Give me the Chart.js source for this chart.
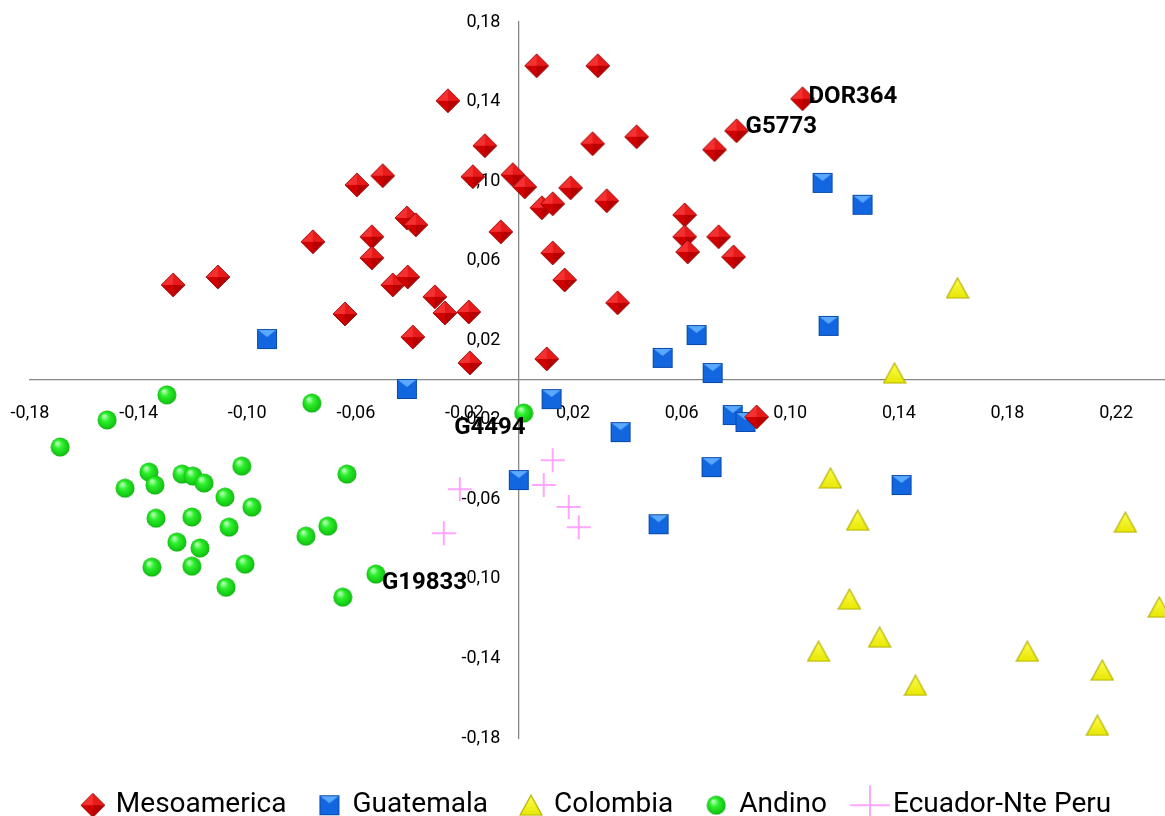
<!DOCTYPE html>
<html>
<head>
<meta charset="utf-8">
<script src="https://cdn.jsdelivr.net/npm/chart.js@4"></script>
<style>
  html, body { margin: 0; padding: 0; background: #fff; overflow: hidden; }
  #wrap { width: 1165px; height: 816px; position: relative; }
  #chart { display: block; }
</style>
</head>
<body>
<div id="wrap"><canvas id="chart"></canvas></div>
<script>
// series names
const seriesNames = ['Mesoamerica', 'Guatemala', 'Colombia', 'Andino', 'Ecuador-Nte Peru'];

// [x, y] values
const mesoamerica = [
  [-0.1273, 0.0478], [-0.1108, 0.0518], [-0.0261, 0.1404], [-0.0125, 0.1178],
  [-0.0501, 0.1027], [-0.0596, 0.0981], [-0.0169, 0.1022], [-0.0022, 0.1032],
  [0.0022, 0.0971], [-0.0412, 0.0815], [-0.0379, 0.0780], [-0.0066, 0.0745],
  [-0.0758, 0.0695], [-0.0541, 0.0720], [-0.0541, 0.0614], [-0.0464, 0.0478],
  [-0.0409, 0.0518], [-0.0309, 0.0418], [-0.0272, 0.0337], [-0.0184, 0.0342],
  [-0.0640, 0.0332], [-0.0390, 0.0216], [-0.0180, 0.0086], [0.0066, 0.1580],
  [0.0291, 0.1580], [0.1045, 0.1414], [0.0802, 0.1253], [0.0272, 0.1188],
  [0.0434, 0.1223], [0.0721, 0.1158], [0.0191, 0.0966], [0.0085, 0.0866],
  [0.0125, 0.0886], [0.0324, 0.0901], [0.0611, 0.0830], [0.0611, 0.0720],
  [0.0622, 0.0644], [0.0736, 0.0720], [0.0791, 0.0619], [0.0125, 0.0639],
  [0.0169, 0.0503], [0.0364, 0.0388], [0.0103, 0.0106], [0.0876, -0.0186]
];
const guatemala = [
  [-0.0927, 0.0206], [-0.0412, -0.0045], [0.0121, -0.0096], [0.0655, 0.0226],
  [0.0530, 0.0111], [0.0714, 0.0035], [0.1119, 0.0991], [0.1266, 0.0881],
  [0.1141, 0.0272], [0.0788, -0.0176], [0.0835, -0.0211], [0.0375, -0.0262],
  [0.0710, -0.0438], [0.0000, -0.0503], [0.0515, -0.0725], [0.1410, -0.0528]
];
const colombia = [
  [0.1616, 0.0463], [0.1384, 0.0035], [0.1148, -0.0493], [0.1248, -0.0705],
  [0.2234, -0.0715], [0.1218, -0.1102], [0.2359, -0.1142], [0.1329, -0.1293],
  [0.1104, -0.1364], [0.1873, -0.1364], [0.2149, -0.1459], [0.1461, -0.1535],
  [0.2131, -0.1736]
];
const andino = [
  [-0.1296, -0.0075], [-0.1516, -0.0201], [-0.1689, -0.0337], [-0.0762, -0.0116],
  [-0.1020, -0.0433], [-0.0633, -0.0473], [-0.1362, -0.0463], [-0.1340, -0.0528],
  [-0.1450, -0.0544], [-0.1240, -0.0473], [-0.1200, -0.0483], [-0.1159, -0.0518],
  [-0.1082, -0.0589], [-0.0983, -0.0639], [-0.1336, -0.0695], [-0.1204, -0.0689],
  [-0.1067, -0.0740], [-0.0703, -0.0735], [-0.0784, -0.0785], [-0.1259, -0.0815],
  [-0.1174, -0.0845], [-0.1351, -0.0941], [-0.1204, -0.0936], [-0.1008, -0.0926],
  [-0.1078, -0.1042], [-0.0526, -0.0976], [-0.0648, -0.1092], [0.0018, -0.0166]
];
const ecuadorPeru = [
  [0.0125, -0.0403], [0.0092, -0.0528], [-0.0217, -0.0549], [0.0184, -0.0639],
  [0.0221, -0.0740], [-0.0276, -0.0770]
];

// named points: [label, series index, point index]
const pointLabels = [
  ['DOR364', 0, 25],
  ['G5773', 0, 26],
  ['G4494', 3, 27],
  ['G19833', 3, 25]
];

const xTickValues = [-0.18, -0.14, -0.10, -0.06, -0.02, 0.02, 0.06, 0.10, 0.14, 0.18, 0.22];
const yTickValues = [-0.18, -0.14, -0.10, -0.06, -0.02, 0.02, 0.06, 0.10, 0.14, 0.18];

const FONT = 'Roboto, "Open Sans", sans-serif';
const fmt = v => v.toFixed(2).replace('.', ',');

// little shaded markers, like the office-style 3d points
function mk(w, h) {
  const c = document.createElement('canvas');
  c.width = w; c.height = h || w;
  return c;
}
function poly(g, pts, fill) {
  g.beginPath();
  g.moveTo(pts[0][0], pts[0][1]);
  for (let i = 1; i < pts.length; i++) g.lineTo(pts[i][0], pts[i][1]);
  g.closePath();
  g.fillStyle = fill;
  g.fill();
}
function diamondMarker() {
  const c = mk(26), g = c.getContext('2d'), m = 13, r = 12;
  poly(g, [[m, m - r], [m, m], [m - r, m]], '#f43030');
  poly(g, [[m, m - r], [m + r, m], [m, m]], '#e81a1a');
  poly(g, [[m - r, m], [m, m], [m, m + r]], '#d00000');
  poly(g, [[m + r, m], [m, m + r], [m, m]], '#b80000');
  g.beginPath();
  g.moveTo(m, m - r); g.lineTo(m + r, m); g.lineTo(m, m + r); g.lineTo(m - r, m); g.closePath();
  g.strokeStyle = 'rgba(140,0,0,0.8)';
  g.lineWidth = 1;
  g.stroke();
  return c;
}
function squareMarker() {
  const c = mk(22), g = c.getContext('2d');
  g.fillStyle = '#1266e0';
  g.fillRect(1, 1, 20, 20);
  poly(g, [[2, 2], [20, 2], [11, 9]], '#5aa8ff');
  g.strokeStyle = '#0a4aa8';
  g.lineWidth = 1;
  g.strokeRect(1.5, 1.5, 19, 19);
  return c;
}
function triangleMarker() {
  const c = mk(24, 22), g = c.getContext('2d');
  const grad = g.createLinearGradient(0, 0, 0, 22);
  grad.addColorStop(0, '#ffff50');
  grad.addColorStop(1, '#e6e600');
  g.beginPath();
  g.moveTo(12, 1); g.lineTo(23, 21); g.lineTo(1, 21); g.closePath();
  g.fillStyle = grad;
  g.fill();
  g.strokeStyle = '#b4b000';
  g.lineWidth = 1.2;
  g.stroke();
  return c;
}
function circleMarker() {
  const c = mk(20), g = c.getContext('2d');
  const grad = g.createRadialGradient(7, 6, 1, 10, 10, 10);
  grad.addColorStop(0, '#b0ffb0');
  grad.addColorStop(0.35, '#2ef02e');
  grad.addColorStop(0.85, '#14c814');
  grad.addColorStop(1, '#0c9c0c');
  g.beginPath();
  g.arc(10, 10, 9.5, 0, Math.PI * 2);
  g.fillStyle = grad;
  g.fill();
  return c;
}

const toXY = arr => arr.map(p => ({ x: p[0], y: p[1] }));

const datasets = [
  { label: seriesNames[0], data: toXY(mesoamerica), pointStyle: diamondMarker() },
  { label: seriesNames[1], data: toXY(guatemala), pointStyle: squareMarker() },
  { label: seriesNames[2], data: toXY(colombia), pointStyle: triangleMarker() },
  { label: seriesNames[3], data: toXY(andino), pointStyle: circleMarker() },
  { label: seriesNames[4], data: toXY(ecuadorPeru), pointStyle: 'cross',
    pointRadius: 12, borderColor: '#ffa6ff', backgroundColor: '#ffa6ff', pointBorderWidth: 2 }
];
datasets.forEach(d => {
  d.showLine = false;
  if (d.pointRadius === undefined) d.pointRadius = 10;
});

// bold names next to some points
const labelPlugin = {
  id: 'pointNames',
  afterDatasetsDraw(chart, args, opts) {
    const ctx = chart.ctx;
    ctx.save();
    ctx.font = 'bold 24px ' + FONT;
    ctx.fillStyle = '#000';
    ctx.textBaseline = 'middle';
    pointLabels.forEach(([name, ds, idx]) => {
      const el = chart.getDatasetMeta(ds).data[idx];
      if (!el) return;
      const o = opts.offsets[name] || { dx: 6, dy: 0, align: 'left' };
      ctx.textAlign = o.align;
      ctx.fillText(name, el.x + o.dx, el.y + o.dy);
    });
    ctx.restore();
  }
};

// fixed legend band height so the plot keeps its size
const legendBand = {
  id: 'legendBand',
  beforeLayout(chart, args, opts) {
    const lg = chart.legend;
    if (!lg || lg._bandWrapped) return;
    const fit = lg.fit;
    lg.fit = function () { fit.call(this); this.height = opts.height; };
    lg._bandWrapped = true;
  }
};

new Chart(document.getElementById('chart'), {
  type: 'scatter',
  data: { datasets },
  plugins: [labelPlugin, legendBand],
  options: {
    responsive: true,
    maintainAspectRatio: false,
    animation: false,
    layout: { autoPadding: false, padding: { left: 30, right: 0, top: 22, bottom: 0 } },
    scales: {
      x: {
        type: 'linear',
        min: -0.18,
        max: 0.238,
        position: { y: 0 },
        grid: { display: false, drawTicks: true, tickLength: 23 },
        border: { color: '#878787', width: 1.3 },
        afterBuildTicks: s => { s.ticks = xTickValues.map(v => ({ value: v })); },
        // plot runs to the right edge, the layout padding handles the left
        afterFit: s => { s.paddingLeft = 0; s.paddingRight = 0; },
        ticks: {
          autoSkip: false, maxRotation: 0, padding: 0,
          color: '#000', font: { family: FONT, size: 18 },
          callback: v => fmt(v)
        }
      },
      y: {
        type: 'linear',
        min: -0.18,
        max: 0.18,
        position: { x: 0 },
        grid: { display: false, drawTicks: false },
        border: { color: '#878787', width: 1.3 },
        afterBuildTicks: s => { s.ticks = yTickValues.map(v => ({ value: v })); },
        ticks: {
          autoSkip: false, padding: 0,
          color: '#000', font: { family: FONT, size: 18 },
          // the em space keeps the labels off the axis line
          callback: v => fmt(v) + '\u2003'
        }
      }
    },
    plugins: {
      legend: {
        position: 'bottom',
        title: { display: true, text: ' ', font: { size: 16 }, padding: 0 },
        labels: {
          usePointStyle: true,
          boxWidth: 18,
          color: '#000',
          font: { family: FONT, size: 28 },
          padding: 34
        }
      },
      legendBand: { height: 78 },
      tooltip: { enabled: false },
      pointNames: {
        offsets: {
          'DOR364': { dx: 6, dy: -2, align: 'left' },
          'G5773': { dx: 9, dy: -4, align: 'left' },
          'G4494': { dx: 2, dy: 15, align: 'right' },
          'G19833': { dx: 6, dy: 9, align: 'left' }
        }
      }
    }
  }
});
</script>
</body>
</html>
